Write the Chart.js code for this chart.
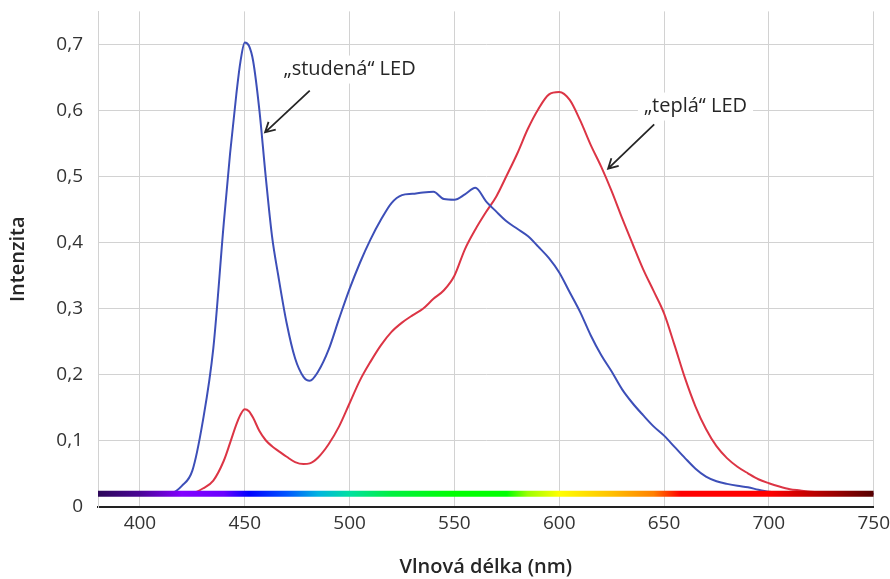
<!DOCTYPE html>
<html>
<head>
<meta charset="utf-8">
<script src="https://cdn.jsdelivr.net/npm/chart.js@4/dist/chart.umd.min.js"></script>
<style>
  html, body { margin: 0; padding: 0; background: #fff; }
  #wrap { width: 890px; height: 579px; }
</style>
</head>
<body>
<div id="wrap"><canvas id="spectrum"></canvas></div>
<script>
// DATA
const wavelengths = [380, 390, 400, 410, 415, 420, 425, 430, 435, 440, 443, 446, 448, 450, 452, 454, 457, 460, 463, 466,
  470, 474, 478, 481, 485, 490, 495, 500, 505, 510, 515, 520, 525, 530, 535, 540, 545, 550, 555, 560,
  565, 570, 575, 580, 585, 590, 595, 600, 605, 610, 615, 620, 625, 630, 635, 640, 645, 650, 655, 660,
  665, 670, 675, 680, 685, 690, 695, 700, 705, 710, 715, 720, 730, 740, 750];

const coldLed = [0.02, 0.02, 0.02, 0.02, 0.021, 0.032, 0.055, 0.13, 0.24, 0.43, 0.535, 0.625, 0.675, 0.703, 0.698, 0.675, 0.60, 0.50, 0.41, 0.35,
  0.278, 0.225, 0.197, 0.191, 0.205, 0.238, 0.285, 0.33, 0.37, 0.405, 0.435, 0.46, 0.472, 0.474, 0.476, 0.477, 0.466, 0.465, 0.473, 0.483,
  0.463, 0.447, 0.432, 0.421, 0.41, 0.394, 0.377, 0.355, 0.325, 0.295, 0.26, 0.23, 0.205, 0.178, 0.157, 0.139, 0.122, 0.108, 0.091, 0.074,
  0.058, 0.046, 0.039, 0.035, 0.032, 0.03, 0.026, 0.023, 0.022, 0.021, 0.021, 0.02, 0.02, 0.02, 0.02];

const warmLed = [0.02, 0.02, 0.02, 0.02, 0.02, 0.02, 0.021, 0.028, 0.04, 0.07, 0.097, 0.125, 0.14, 0.148, 0.145, 0.135, 0.115, 0.101, 0.092, 0.085,
  0.076, 0.068, 0.065, 0.066, 0.075, 0.095, 0.122, 0.157, 0.192, 0.22, 0.245, 0.265, 0.279, 0.29, 0.30, 0.315, 0.328, 0.35, 0.39, 0.42,
  0.446, 0.47, 0.502, 0.535, 0.572, 0.602, 0.624, 0.628, 0.616, 0.585, 0.548, 0.515, 0.478, 0.437, 0.398, 0.36, 0.327, 0.293, 0.245, 0.195,
  0.152, 0.118, 0.092, 0.074, 0.061, 0.051, 0.042, 0.036, 0.031, 0.027, 0.025, 0.023, 0.021, 0.02, 0.02];

// visible spectrum strip along the bottom
const stripRange = [380, 750];
const stripLevel = 0.02;
const stripWave  = [380, 400, 420, 440, 452, 470, 485, 500, 520, 550, 575, 585, 600, 625, 645, 658, 700, 715, 732, 750];
const stripColor = ['#2c0859', '#4a0596', '#8300ff', '#6a00ff', '#0000ff', '#0055ff', '#00b4e0', '#00e0a0', '#00f040', '#00ff00',
  '#00ff00', '#9cff00', '#ffff00', '#ffc000', '#ff8000', '#ff0000', '#ff0000', '#d00000', '#9a0000', '#550000'];

const notes = [
  { text: '\u201Estuden\u00E1\u201C LED', x: 500, y: 0.662, from: [481, 0.63], to: [459.7, 0.567] },
  { text: '\u201Etepl\u00E1\u201C LED', x: 665, y: 0.606, from: [645.3, 0.579], to: [623.3, 0.512] }
];

const xTicks = [400, 450, 500, 550, 600, 650, 700, 750];
const yTicks = [0, 0.1, 0.2, 0.3, 0.4, 0.5, 0.6, 0.7];

let grad = null, gradKey = '';
function stripGradient(chart) {
  const area = chart.chartArea;
  if (!area) return '#000';
  const x = chart.scales.x;
  const x0 = x.getPixelForValue(stripRange[0]), x1 = x.getPixelForValue(stripRange[1]);
  const key = x0 + ':' + x1;
  if (grad && gradKey === key) return grad;
  grad = chart.ctx.createLinearGradient(x0, 0, x1, 0);
  for (let i = 0; i < stripWave.length; i++) {
    grad.addColorStop((stripWave[i] - stripRange[0]) / (stripRange[1] - stripRange[0]), stripColor[i]);
  }
  gradKey = key;
  return grad;
}

const notePlugin = {
  id: 'notes',
  beforeDatasetsDraw(chart) {
    const ctx = chart.ctx, xs = chart.scales.x, ys = chart.scales.y;
    ctx.save();
    ctx.font = '20px "Open Sans"';
    ctx.textAlign = 'center';
    ctx.textBaseline = 'middle';
    notes.forEach(n => {
      const px = xs.getPixelForValue(n.x), py = ys.getPixelForValue(n.y);
      const w = ctx.measureText(n.text).width;
      ctx.fillStyle = '#fff';
      ctx.fillRect(px - w / 2 - 6, py - 14, w + 12, 28);
      ctx.fillStyle = '#262626';
      ctx.fillText(n.text, px, py);
      // arrow
      const ax = xs.getPixelForValue(n.from[0]), ay = ys.getPixelForValue(n.from[1]);
      const bx = xs.getPixelForValue(n.to[0]), by = ys.getPixelForValue(n.to[1]);
      ctx.strokeStyle = '#262626';
      ctx.lineWidth = 1.8;
      ctx.beginPath();
      ctx.moveTo(ax, ay);
      ctx.lineTo(bx, by);
      const ang = Math.atan2(by - ay, bx - ax), len = 11;
      ctx.moveTo(bx - len * Math.cos(ang - 0.5), by - len * Math.sin(ang - 0.5));
      ctx.lineTo(bx, by);
      ctx.lineTo(bx - len * Math.cos(ang + 0.5), by - len * Math.sin(ang + 0.5));
      ctx.stroke();
    });
    ctx.restore();
  }
};

const titleFont = { family: '"Open Sans"', size: 20, weight: '600' };

new Chart(document.getElementById('spectrum'), {
  type: 'line',
  data: {
    datasets: [
      {
        label: 'spektrum',
        data: stripRange.map(w => ({ x: w, y: stripLevel })),
        borderColor: ctx => stripGradient(ctx.chart),
        borderWidth: 6,
        borderCapStyle: 'butt',
        pointRadius: 0
      },
      {
        label: 'studená LED',
        data: wavelengths.map((w, i) => ({ x: w, y: coldLed[i] })),
        borderColor: '#3d4fb8',
        borderWidth: 2,
        pointRadius: 0,
        cubicInterpolationMode: 'monotone'
      },
      {
        label: 'teplá LED',
        data: wavelengths.map((w, i) => ({ x: w, y: warmLed[i] })),
        borderColor: '#dc3545',
        borderWidth: 2,
        pointRadius: 0,
        cubicInterpolationMode: 'monotone'
      }
    ]
  },
  options: {
    responsive: true,
    maintainAspectRatio: false,
    animation: false,
    layout: { padding: { top: 1, right: 0, left: 6, bottom: 0 } },
    plugins: { legend: { display: false }, tooltip: { enabled: false } },
    scales: {
      x: {
        type: 'linear',
        min: 380,
        max: 750,
        afterBuildTicks: s => { s.ticks = xTicks.map(v => ({ value: v })); },
        afterFit: s => { s.height = 72; },
        ticks: { font: { family: '"Open Sans"', size: 19, lineHeight: 1.55 }, color: '#333', padding: 0 },
        grid: { color: '#d2d2d2', lineWidth: 1, drawTicks: true, tickLength: 2, tickColor: 'rgba(0,0,0,0)' },
        border: { color: '#222', width: 2 },
        title: { display: true, text: 'Vlnová délka (nm)', font: titleFont, color: '#262626', padding: { top: 0, bottom: 0 } }
      },
      y: {
        min: 0,
        max: 0.75,
        afterBuildTicks: s => { s.ticks = yTicks.map(v => ({ value: v })); },
        afterFit: s => { s.width = 92; },
        ticks: {
          font: { family: '"Open Sans"', size: 19 }, color: '#333', padding: 0,
          callback: v => v === 0 ? '0' : v.toFixed(1).replace('.', ',')
        },
        grid: { color: '#d2d2d2', lineWidth: 1, drawTicks: true, tickLength: 15, tickColor: 'rgba(0,0,0,0)' },
        border: { color: '#d2d2d2', width: 1 },
        title: { display: true, text: 'Intenzita', font: titleFont, color: '#262626', padding: { top: 0, bottom: 0 } }
      }
    }
  },
  plugins: [notePlugin]
});
</script>
</body>
</html>
